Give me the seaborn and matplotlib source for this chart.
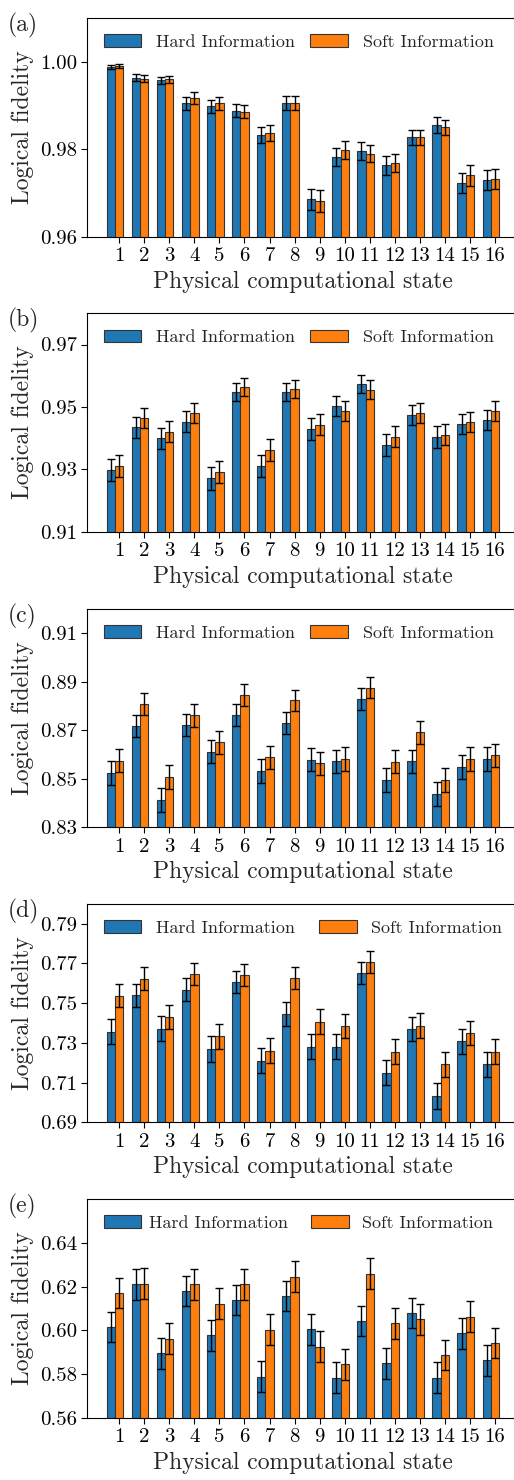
import matplotlib
matplotlib.use("Agg")
import matplotlib.pyplot as plt
from matplotlib.ticker import FormatStrFormatter
import numpy as np
import pandas as pd
import seaborn as sns

# ---------------------------------------------------------------- data
STATES = [str(i) for i in range(1, 17)]
INFO = ["Hard Information", "Soft Information"]
PANELS = ["(a)", "(b)", "(c)", "(d)", "(e)"]

hard_a = [0.9989, 0.9964, 0.9958, 0.9905, 0.9898, 0.9888, 0.9832, 0.9906,
          0.9686, 0.9782, 0.9796, 0.9763, 0.9827, 0.9856, 0.9722, 0.9729]
soft_a = [0.9990, 0.9961, 0.9960, 0.9918, 0.9905, 0.9886, 0.9837, 0.9906,
          0.9682, 0.9798, 0.9790, 0.9768, 0.9827, 0.9850, 0.9740, 0.9731]
hard_err_a = [0.0005, 0.0008, 0.0008, 0.0015, 0.0015, 0.0015, 0.0018, 0.0015,
              0.0024, 0.0021, 0.0021, 0.0022, 0.0018, 0.0018, 0.0023, 0.0023]
soft_err_a = [0.0005, 0.0008, 0.0008, 0.0014, 0.0015, 0.0015, 0.0018, 0.0015,
              0.0025, 0.0021, 0.0020, 0.0021, 0.0018, 0.0018, 0.0023, 0.0023]

hard_b = [0.9298, 0.9435, 0.9400, 0.9453, 0.9272, 0.9548, 0.9310, 0.9549,
          0.9429, 0.9503, 0.9573, 0.9377, 0.9474, 0.9404, 0.9445, 0.9459]
soft_b = [0.9310, 0.9464, 0.9421, 0.9481, 0.9291, 0.9565, 0.9361, 0.9557,
          0.9443, 0.9486, 0.9555, 0.9405, 0.9481, 0.9411, 0.9452, 0.9486]
hard_err_b = [0.0036, 0.0033, 0.0034, 0.0033, 0.0037, 0.0029, 0.0036, 0.0029,
              0.0034, 0.0032, 0.0029, 0.0035, 0.0032, 0.0034, 0.0033, 0.0032]
soft_err_b = [0.0036, 0.0032, 0.0034, 0.0032, 0.0036, 0.0029, 0.0035, 0.0029,
              0.0033, 0.0032, 0.0030, 0.0034, 0.0032, 0.0033, 0.0032, 0.0032]

hard_c = [0.8524, 0.8718, 0.8413, 0.8721, 0.8612, 0.8762, 0.8531, 0.8729,
          0.8578, 0.8572, 0.8829, 0.8495, 0.8572, 0.8436, 0.8548, 0.8581]
soft_c = [0.8574, 0.8807, 0.8506, 0.8761, 0.8651, 0.8845, 0.8589, 0.8823,
          0.8563, 0.8581, 0.8876, 0.8571, 0.8691, 0.8494, 0.8581, 0.8597]
hard_err_c = [0.0049, 0.0046, 0.0050, 0.0046, 0.0047, 0.0045, 0.0049, 0.0046,
              0.0048, 0.0048, 0.0044, 0.0049, 0.0048, 0.0050, 0.0048, 0.0048]
soft_err_c = [0.0048, 0.0045, 0.0049, 0.0046, 0.0047, 0.0044, 0.0048, 0.0044,
              0.0048, 0.0048, 0.0043, 0.0048, 0.0046, 0.0049, 0.0048, 0.0047]

hard_d = [0.7357, 0.7540, 0.7372, 0.7567, 0.7268, 0.7606, 0.7211, 0.7444,
          0.7280, 0.7281, 0.7653, 0.7150, 0.7369, 0.7034, 0.7308, 0.7191]
soft_d = [0.7537, 0.7624, 0.7431, 0.7646, 0.7333, 0.7641, 0.7261, 0.7626,
          0.7407, 0.7384, 0.7706, 0.7256, 0.7387, 0.7192, 0.7350, 0.7256]
hard_err_d = [0.0063, 0.0058, 0.0062, 0.0058, 0.0064, 0.0057, 0.0064, 0.0060,
              0.0063, 0.0063, 0.0056, 0.0064, 0.0062, 0.0065, 0.0062, 0.0064]
soft_err_d = [0.0059, 0.0057, 0.0061, 0.0057, 0.0062, 0.0057, 0.0063, 0.0057,
              0.0061, 0.0061, 0.0055, 0.0063, 0.0061, 0.0064, 0.0061, 0.0063]

hard_e = [0.6015, 0.6211, 0.5895, 0.6180, 0.5977, 0.6138, 0.5788, 0.6157,
          0.6005, 0.5783, 0.6043, 0.5849, 0.6079, 0.5783, 0.5986, 0.5863]
soft_e = [0.6171, 0.6214, 0.5962, 0.6211, 0.6122, 0.6211, 0.6003, 0.6246,
          0.5925, 0.5844, 0.6260, 0.6032, 0.6050, 0.5887, 0.6063, 0.5941]
hard_err_e = [0.0069, 0.0070, 0.0070, 0.0070, 0.0070, 0.0070, 0.0070, 0.0070,
              0.0070, 0.0070, 0.0070, 0.0070, 0.0070, 0.0070, 0.0070, 0.0070]
soft_err_e = [0.0069, 0.0070, 0.0070, 0.0070, 0.0070, 0.0070, 0.0070, 0.0070,
              0.0070, 0.0070, 0.0069, 0.0070, 0.0070, 0.0070, 0.0070, 0.0070]

YTICKS = [
    [0.96, 0.98, 1.00],
    [0.91, 0.93, 0.95, 0.97],
    [0.83, 0.85, 0.87, 0.89, 0.91],
    [0.69, 0.71, 0.73, 0.75, 0.77, 0.79],
    [0.56, 0.58, 0.60, 0.62, 0.64],
]
YLIMS = [(0.96, 1.01), (0.91, 0.98), (0.83, 0.92), (0.69, 0.80), (0.56, 0.66)]

series = [
    (hard_a, soft_a, hard_err_a, soft_err_a),
    (hard_b, soft_b, hard_err_b, soft_err_b),
    (hard_c, soft_c, hard_err_c, soft_err_c),
    (hard_d, soft_d, hard_err_d, soft_err_d),
    (hard_e, soft_e, hard_err_e, soft_err_e),
]

# ---------------------------------------------------------------- style
sns.set_style("ticks")
plt.rcParams["font.family"] = ["cmr10", "DejaVu Serif"]
plt.rcParams["axes.formatter.use_mathtext"] = True
plt.rcParams["axes.linewidth"] = 0.8
plt.rcParams["axes.edgecolor"] = "black"
plt.rcParams["xtick.color"] = "black"
plt.rcParams["ytick.color"] = "black"
plt.rcParams["xtick.major.size"] = 4
plt.rcParams["ytick.major.size"] = 4

COLORS = ["#1f77b4", "#ff7f0e"]

# legend spacing per panel (handle gap, column gap, label strings)
LEGEND_OPTS = [
    dict(handletextpad=0.83, columnspacing=0.83, labels=INFO),
    dict(handletextpad=0.83, columnspacing=0.83, labels=INFO),
    dict(handletextpad=0.83, columnspacing=0.83, labels=INFO),
    dict(handletextpad=0.83, columnspacing=1.28, labels=INFO),
    dict(handletextpad=0.40, columnspacing=1.30,
         labels=[INFO[0], " " + INFO[1]]),
]

fig = plt.figure(figsize=(5.14, 14.8), dpi=100)

AX_LEFT = 0.1699
AX_WIDTH = 0.839
AX_HEIGHT = 0.1476
AX_BOTTOMS = [0.8401, 0.6407, 0.4410, 0.2417, 0.0421]

for k, (hard, soft, herr, serr) in enumerate(series):
    ax = fig.add_axes([AX_LEFT, AX_BOTTOMS[k], AX_WIDTH, AX_HEIGHT])

    df = pd.DataFrame({
        "state": STATES * 2,
        "info": [INFO[0]] * 16 + [INFO[1]] * 16,
        "fidelity": list(hard) + list(soft),
    })
    sns.barplot(data=df, x="state", y="fidelity", hue="info",
                order=STATES, hue_order=INFO, palette=COLORS,
                width=0.66, gap=0, errorbar=None, saturation=1,
                edgecolor="#333333", linewidth=0.8, legend=False, ax=ax)

    bars = sorted(ax.patches, key=lambda p: p.get_x())
    hard_bars = bars[0::2]
    soft_bars = bars[1::2]
    hx = [p.get_x() + p.get_width() / 2 for p in hard_bars]
    sx = [p.get_x() + p.get_width() / 2 for p in soft_bars]

    ax.errorbar(hx, hard, yerr=herr, fmt="none", ecolor="black",
                elinewidth=1.0, capsize=2.8, capthick=1.0, zorder=5)
    ax.errorbar(sx, soft, yerr=serr, fmt="none", ecolor="black",
                elinewidth=1.0, capsize=2.8, capthick=1.0, zorder=5)

    ax.set_xticks(sx, STATES)
    ax.set_xlim(-1.11, 16.11)
    ax.set_ylim(*YLIMS[k])
    ax.set_yticks(YTICKS[k])
    ax.yaxis.set_major_formatter(FormatStrFormatter("%.2f"))
    ax.tick_params(axis="both", labelsize=15, width=0.8, length=4,
                   direction="out")
    ax.spines["right"].set_visible(False)
    ax.set_xlabel("Physical computational state", fontsize=17)
    ax.set_ylabel("Logical fidelity", fontsize=17)

    opts = LEGEND_OPTS[k]
    ax.legend([hard_bars[0], soft_bars[0]], opts["labels"],
              loc="upper left", ncol=2, frameon=False, fontsize=13,
              handlelength=2.1, handleheight=0.72,
              handletextpad=opts["handletextpad"],
              columnspacing=opts["columnspacing"])

    ax.text(-0.185, 1.023, PANELS[k], transform=ax.transAxes,
            fontsize=17, va="top", ha="left")

fig.savefig("out.png", dpi=100)
